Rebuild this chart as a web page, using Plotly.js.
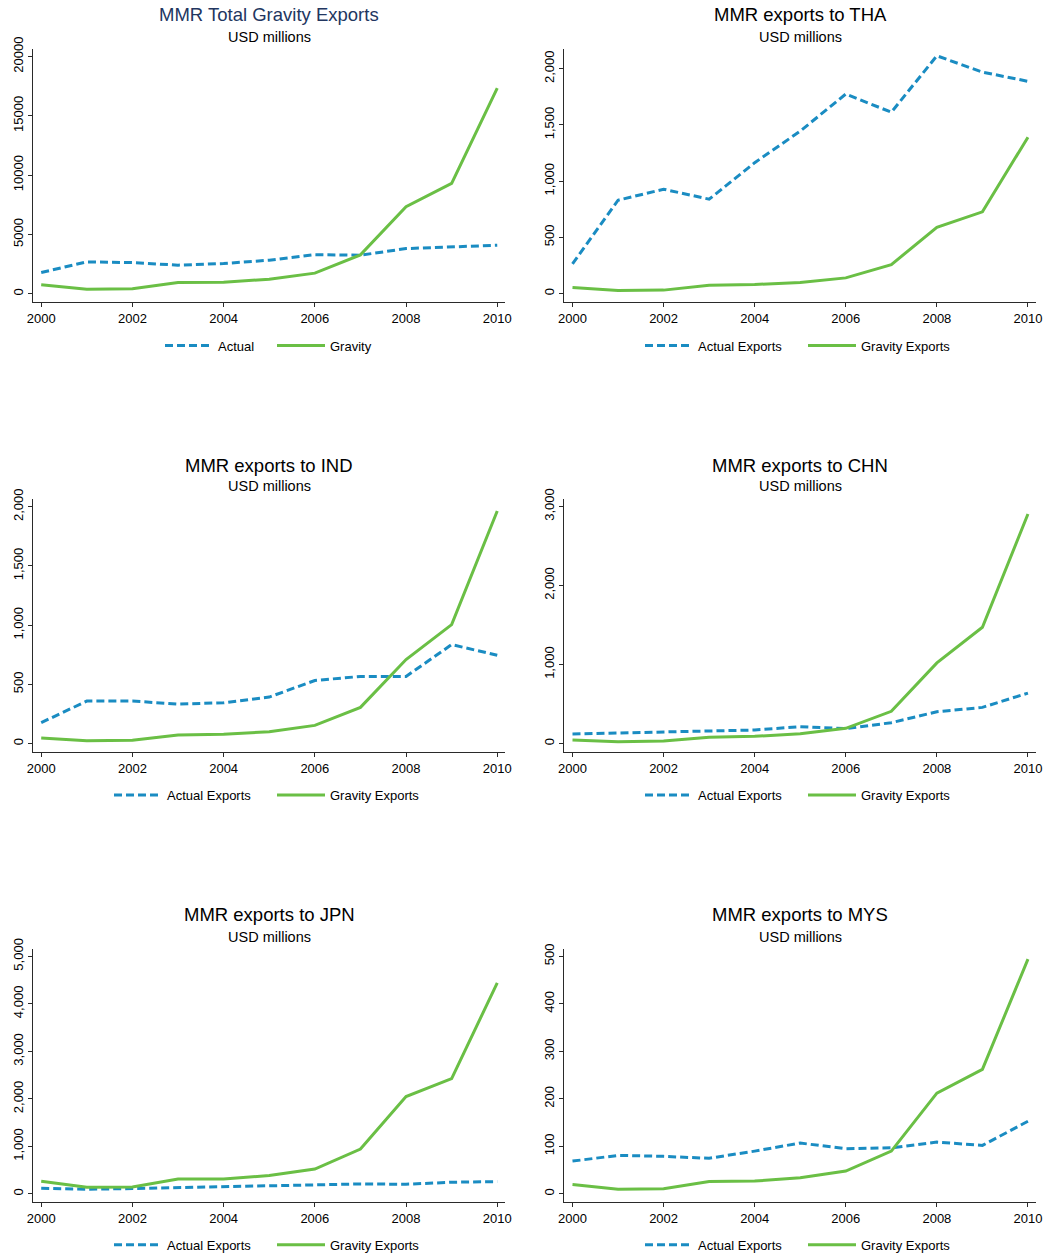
<!DOCTYPE html>
<html>
<head>
<meta charset="utf-8">
<script src="https://cdn.plot.ly/plotly-3.0.1.min.js"></script>
<style>html,body{margin:0;padding:0;background:#fff;}#chart{width:1051px;height:1260px;}</style>
</head>
<body>
<div id="chart"></div>
<script>
// ---- data ----
const years = [2000, 2001, 2002, 2003, 2004, 2005, 2006, 2007, 2008, 2009, 2010];

const totalActual  = [1790, 2690, 2630, 2410, 2550, 2830, 3300, 3250, 3810, 3980, 4090];
const totalGravity = [760, 390, 420, 950, 980, 1230, 1740, 3280, 7340, 9300, 17340];

const thaActual  = [263, 830, 928, 839, 1164, 1445, 1775, 1613, 2115, 1970, 1888];
const thaGravity = [53, 27, 30, 74, 80, 97, 139, 257, 588, 727, 1391];

const indActual  = [177, 359, 359, 334, 345, 393, 533, 567, 567, 836, 746];
const indGravity = [48, 25, 28, 73, 79, 101, 154, 306, 710, 1004, 1964];

const chnActual  = [122, 134, 139, 155, 172, 214, 189, 265, 403, 458, 639];
const chnGravity = [46, 25, 34, 80, 92, 126, 193, 408, 1021, 1471, 2903];

const jpnActual  = [119, 98, 112, 133, 154, 168, 189, 210, 203, 245, 259];
const jpnGravity = [266, 140, 147, 315, 315, 385, 524, 944, 2049, 2427, 4441];

const mysActual  = [69, 81, 79, 75, 90, 107, 95, 97, 109, 102, 153];
const mysGravity = [20, 10, 11, 26, 27, 34, 48, 90, 212, 262, 494];

const panelTitles = ["MMR Total Gravity Exports", "MMR exports to THA", "MMR exports to IND",
                     "MMR exports to CHN", "MMR exports to JPN", "MMR exports to MYS"];
const subtitle = "USD millions";
const actualNames  = ["Actual", "Actual Exports", "Actual Exports", "Actual Exports", "Actual Exports", "Actual Exports"];
const gravityNames = ["Gravity", "Gravity Exports", "Gravity Exports", "Gravity Exports", "Gravity Exports", "Gravity Exports"];

// ---- layout / styling ----
const W = 1051, H = 1260;
const FONT = "Liberation Sans, Arial, Helvetica, sans-serif";
const BLUE = "#1a8cc2", GREEN = "#6abf45", AXIS = "#2a2a2a";

const actualSeries  = [totalActual, thaActual, indActual, chnActual, jpnActual, mysActual];
const gravitySeries = [totalGravity, thaGravity, indGravity, chnGravity, jpnGravity, mysGravity];

const yRanges = [[-697, 20647], [-76, 2177], [-70, 2064], [-105, 3092], [-174, 5161], [-17.4, 516]];
const yDticks = [5000, 500, 500, 1000, 1000, 100];
const yFormats = ["d", ",d", ",d", ",d", ",d", ",d"];
const legEntryW = [49, 100, 100, 100, 100, 100];

// pixel boxes for each panel [left, right, top, bottom]
const colX = [[33, 505], [564.3, 1035.7]];
const rowY = [[49, 303], [500.7, 754.3], [951.7, 1206]];
const titleY = [15, 466.7, 917];
const subY = [37, 488, 940];
const legY = [346.7, 797.7, 1248.7];
const legShift = 3;

const traces = [];
const layout = {
  width: W, height: H,
  margin: {l: 0, r: 0, t: 0, b: 0},
  paper_bgcolor: "#fff", plot_bgcolor: "#fff",
  font: {family: FONT, size: 13, color: "#000"},
  showlegend: true,
  annotations: [],
};

for (let i = 0; i < 6; i++) {
  const col = i % 2, row = Math.floor(i / 2);
  const sfx = i === 0 ? "" : String(i + 1);
  const xa = "x" + sfx, ya = "y" + sfx;
  const legName = i === 0 ? "legend" : "legend" + (i + 1);
  const xd = [colX[col][0] / W, colX[col][1] / W];
  const yd = [1 - rowY[row][1] / H, 1 - rowY[row][0] / H];

  traces.push({
    x: years, y: actualSeries[i], xaxis: xa, yaxis: ya, type: "scatter", mode: "lines",
    name: actualNames[i], legend: legName,
    line: {color: BLUE, width: 3, dash: "8px,4px"}
  });
  traces.push({
    x: years, y: gravitySeries[i], xaxis: xa, yaxis: ya, type: "scatter", mode: "lines",
    name: gravityNames[i], legend: legName,
    line: {color: GREEN, width: 3}
  });

  layout["xaxis" + sfx] = {
    domain: xd, anchor: ya, range: [1999.82, 2010.17],
    tick0: 2000, dtick: 2, tickformat: "d",
    showgrid: false, zeroline: false, showline: true, linecolor: AXIS, linewidth: 1,
    ticks: "outside", ticklen: 4, tickcolor: AXIS, tickwidth: 1,
    tickfont: {family: FONT, size: 13, color: "#000"}, fixedrange: true
  };
  layout["yaxis" + sfx] = {
    domain: yd, anchor: xa, range: yRanges[i],
    tick0: 0, dtick: yDticks[i], tickformat: yFormats[i], tickangle: -90,
    showgrid: false, zeroline: false, showline: true, linecolor: AXIS, linewidth: 1,
    ticks: "outside", ticklen: 4, tickcolor: AXIS, tickwidth: 1,
    tickfont: {family: FONT, size: 13, color: "#000"}, fixedrange: true
  };

  const cx = (xd[0] + xd[1]) / 2;
  layout.annotations.push({
    text: panelTitles[i], xref: "paper", yref: "paper", x: cx, y: 1 - titleY[row] / H,
    xanchor: "center", yanchor: "middle", showarrow: false,
    font: {family: FONT, size: 18.5, color: i === 0 ? "#22365f" : "#000"}
  });
  layout.annotations.push({
    text: subtitle, xref: "paper", yref: "paper", x: cx, y: 1 - subY[row] / H,
    xanchor: "center", yanchor: "middle", showarrow: false,
    font: {family: FONT, size: 14.5, color: "#000"}
  });

  layout[legName] = {
    orientation: "h", x: cx + legShift / W, y: 1 - legY[row] / H, xanchor: "center", yanchor: "middle",
    xref: "paper", yref: "paper", bgcolor: "rgba(0,0,0,0)", borderwidth: 0,
    font: {family: FONT, size: 13, color: "#000"}, itemwidth: 48, traceorder: "normal",
    entrywidthmode: "pixels", entrywidth: legEntryW[i]
  };
}

Plotly.newPlot("chart", traces, layout, {staticPlot: true, displayModeBar: false});
</script>
</body>
</html>
